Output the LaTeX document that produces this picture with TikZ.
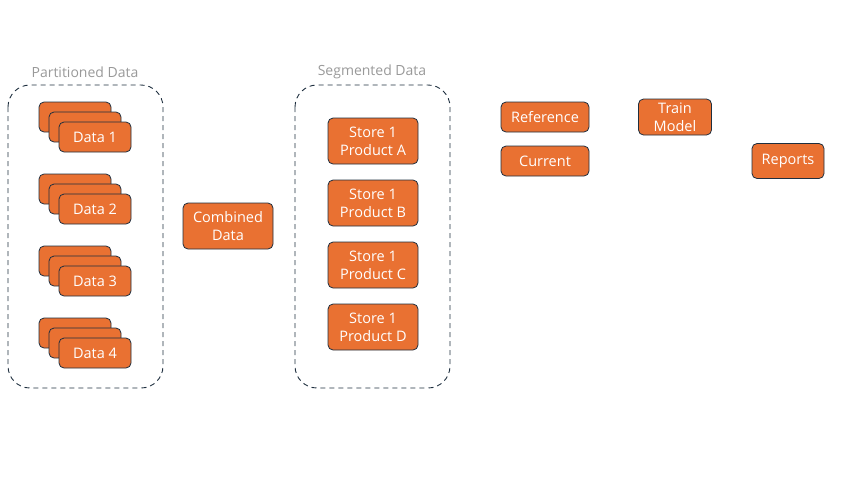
\documentclass[tikz,border=0pt]{standalone}
\usepackage{fontspec}
\setmainfont{Open Sans}
\begin{document}
\begin{tikzpicture}[x=1pt,y=-1pt,
  card/.style={draw=navy,line width=0.8pt,fill=tileorange,rounded corners=5pt,
    text=white,font=\fontsize{14.5}{18}\selectfont,align=center,inner sep=0pt,
    minimum width=#1,minimum height=30pt},
  card/.default=72pt,
  tallcard/.style={card=#1,minimum height=46pt},
  tallcard/.default=90pt,
  group/.style={draw=navy,dash pattern=on 5pt off 4pt,line width=0.9pt,rounded corners=22pt},
  grouptitle/.style={text=gray!80,font=\fontsize{14}{16}\selectfont}]
\definecolor{tileorange}{HTML}{E97132}
\definecolor{navy}{HTML}{1F2F3F}
\useasboundingbox (0,0) rectangle (853,480);

% dashed group frames with their titles
\draw[group] (8,85) rectangle (163,388);
\node[grouptitle] (ptitle) at (85,72) {Partitioned Data};
\draw[group] (295,85) rectangle (450,388);
\node[grouptitle] (stitle) at (372,72) {Segmented Data};

% stacked partition cards
\foreach \i/\y in {1/137,2/209,3/281,4/353}{
  \node[card] (back\i) at (75,\y-20) {};
  \node[card] (mid\i) at (85,\y-10) {};
  \node[card] (data\i) at (95,\y) {Data \i};
}

\node[tallcard] (combined) at (228,226) {Combined\\Data};

% segments
\foreach \s/\y in {A/141,B/203,C/265,D/327}{
  \node[tallcard] (seg\s) at (373,\y) {Store 1\\Product \s};
}

\node[card=88pt] (reference) at (545,117) {Reference};
\node[card=88pt] (current) at (545,161) {Current};
\node[card=73pt,minimum height=36pt] (train) at (675,117) {Train\\Model};
\node[card=72pt,minimum height=35pt] (reports) at (788,161) {Reports};
\end{tikzpicture}
\end{document}
